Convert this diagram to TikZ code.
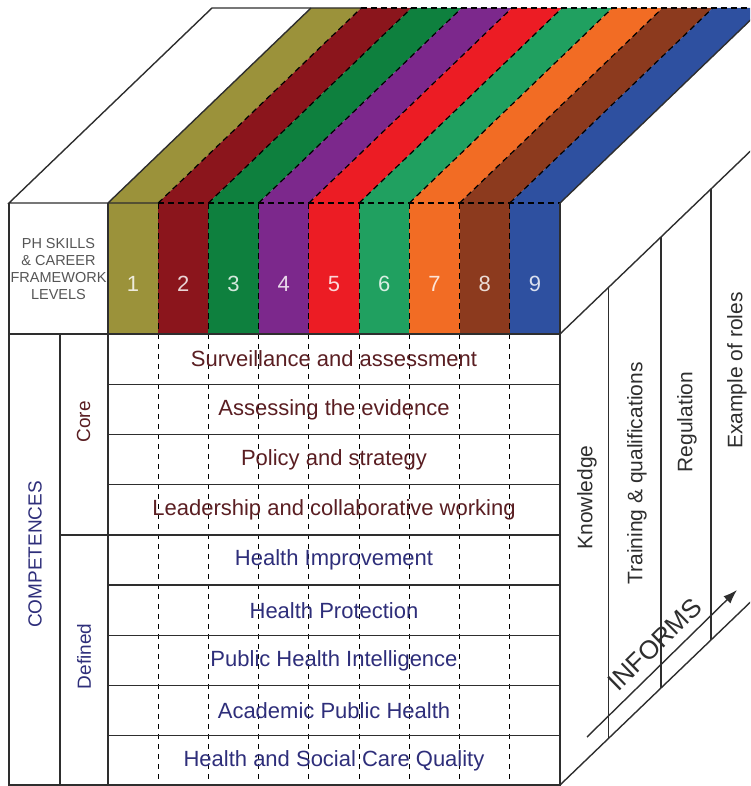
\documentclass[tikz,border=0pt]{standalone}
\usepackage{fontspec}
\setmainfont{Liberation Sans}
\usetikzlibrary{arrows.meta}
\definecolor{c1}{HTML}{9B923A}
\definecolor{c2}{HTML}{8B151C}
\definecolor{c3}{HTML}{0E803E}
\definecolor{c4}{HTML}{7C288C}
\definecolor{c5}{HTML}{EC1C24}
\definecolor{c6}{HTML}{20A060}
\definecolor{c7}{HTML}{F26C24}
\definecolor{c8}{HTML}{8C3A1E}
\definecolor{c9}{HTML}{2E50A0}
\definecolor{edge}{HTML}{2E2E2E}
\definecolor{coretxt}{HTML}{5A1E22}
\definecolor{deftxt}{HTML}{2E2E7A}
\definecolor{hdrtxt}{HTML}{555555}
\tikzset{
  solidline/.style={draw=edge, line width=1.4pt},
  hdash/.style={draw=black, line width=1.2pt, dash pattern=on 6pt off 4pt},
  bdash/.style={draw=black, line width=1.1pt, dash pattern=on 5pt off 5pt},
  rowtext/.style={font=\fontsize{22}{26}\selectfont, inner sep=0pt},
  sidelabel/.style={font=\fontsize{19}{22}\selectfont, rotate=90, inner sep=0pt},
  facelabel/.style={font=\fontsize{21}{24}\selectfont, rotate=90, inner sep=0pt, text=edge},
  digit/.style={font=\fontsize{22}{26}\selectfont, inner sep=0pt}
}
\begin{document}
\begin{tikzpicture}[x=1pt,y=-1pt]
\useasboundingbox (0,0) rectangle (750,786);
\clip (0,0) rectangle (750,786);
% ---- coloured level columns (front and top faces)
\foreach \i/\c in {1/c1,2/c2,3/c3,4/c4,5/c5,6/c6,7/c7,8/c8,9/c9}{
  \pgfmathsetmacro\xa{108+50.222*(\i-1)}
  \pgfmathsetmacro\xb{108+50.222*\i}
  \fill[\c] (\xa,203) rectangle (\xb,334);
  \fill[\c] (\xa,203) -- (\xb,203) -- ({\xb+203},8) -- ({\xa+203},8) -- cycle;
  \node[digit, text=white!82!\c] (lv\i) at ({(\xa+\xb)/2},284) {\i};
}
% ---- dashed boundaries between levels
\foreach \i in {1,...,8}{
  \pgfmathsetmacro\xx{108+50.222*\i}
  \draw[hdash] (\xx,203) -- (\xx,334);
  \draw[hdash] (\xx,203) -- ({\xx+203},8);
  \draw[bdash] (\xx,334) -- (\xx,786);
}
\draw[hdash] (158.2,203) -- (560,203);
\draw[hdash] (361.2,8) -- (763,8);
% ---- cube edges
\coordinate (FTL) at (9,203);
\coordinate (FTR) at (560,203);
\coordinate (FBL) at (9,785);
\coordinate (FBR) at (560,785);
\coordinate (BTL) at (212,8);
\coordinate (BTR) at (763,8);
\draw[solidline] (158.2,203) -- (FTL) -- (BTL) -- (361.2,8);
\draw[solidline] (108,203) -- (311,8);
\draw[solidline] (FTR) -- (BTR);
\draw[solidline] (FTL) -- (FBL) -- (FBR) -- (FTR);
\draw[solidline] (108,203) -- (108,785);
\draw[solidline] (60,334) -- (60,785);
\draw[solidline] (9,334) -- (560,334);
\foreach \k in {1,2,3,5,6,7,8}{
  \draw[solidline] (108,{334+50.222*\k}) -- (560,{334+50.222*\k});
}
\draw[solidline] (60,{334+50.222*4}) -- (560,{334+50.222*4});
% ---- right face
\draw[solidline] (560,334) -- (763,139);
\draw[solidline] (FBR) -- (763,590);
\foreach \xv in {608.5,661,711}{
  \draw[solidline] (\xv,{334-(\xv-560)*0.9606}) -- (\xv,{785-(\xv-560)*0.9606});
}
\coordinate (arA) at (587,737);
\coordinate (arB) at (737,590);
\draw[solidline, -{Latex[length=14pt,width=10pt]}] (arA) -- (arB);
\node[font=\fontsize{26}{30}\selectfont, text=edge, rotate=44.4, anchor=base, inner sep=0pt] (inf) at (661,651) {INFORMS};
% ---- header text
\node[align=center, text=hdrtxt, font=\fontsize{14.5}{17}\selectfont, inner sep=0pt] (hdr) at (58.5,269.5) {PH SKILLS\\\& CAREER\\FRAMEWORK\\LEVELS};
% ---- side labels
\node[sidelabel, text=deftxt] (comp) at (35,554.5) {COMPETENCES};
\node[sidelabel, text=coretxt] (core) at (83.5,422) {Core};
\node[sidelabel, text=deftxt] (defd) at (84,656.5) {Defined};
% ---- competence rows
\foreach \k/\t/\cc in {0/Surveillance and assessment/coretxt,1/Assessing the evidence/coretxt,2/Policy and strategy/coretxt,3/Leadership and collaborative working/coretxt,4/Health Improvement/deftxt,5/Health Protection/deftxt,6/Public Health Intelligence/deftxt,7/Academic Public Health/deftxt,8/Health and Social Care Quality/deftxt}{
  \node[rowtext, text=\cc] (row\k) at (334,{334+50.222*(\k+0.5)}) {\t};
}
% ---- right face labels
\node[facelabel] (know) at (587,497.5) {Knowledge};
\node[facelabel] (train) at (637,473.5) {Training \& qualifications};
\node[facelabel] (regu) at (687,422) {Regulation};
\node[facelabel] (roles) at (737,370.5) {Example of roles};
\end{tikzpicture}
\end{document}
